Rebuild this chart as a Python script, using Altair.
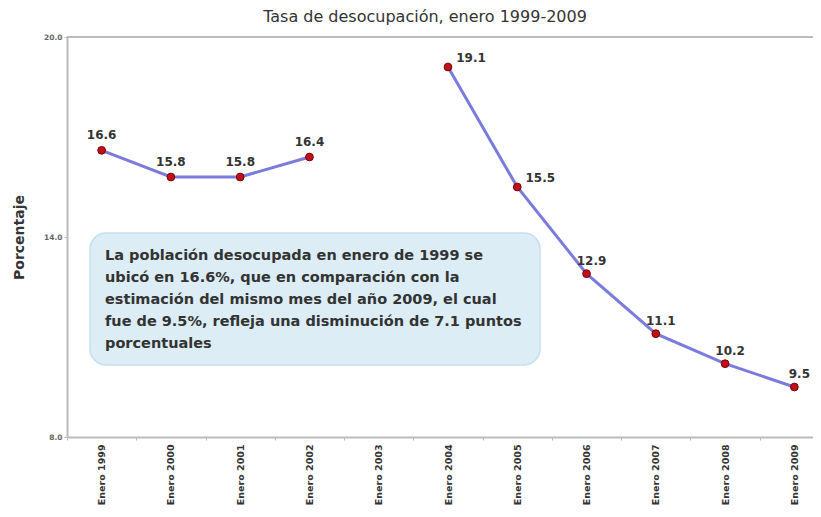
import altair as alt
import pandas as pd

categorias = ["Enero 1999", "Enero 2000", "Enero 2001", "Enero 2002", "Enero 2003",
              "Enero 2004", "Enero 2005", "Enero 2006", "Enero 2007", "Enero 2008", "Enero 2009"]
valores = [16.6, 15.8, 15.8, 16.4, None, 19.1, 15.5, 12.9, 11.1, 10.2, 9.5]
tramos = ["a", "a", "a", "a", None, "b", "b", "b", "b", "b", "b"]

titulo = "Tasa de desocupación, enero 1999-2009"
nota = [
    "La población desocupada en enero de 1999 se",
    "ubicó en 16.6%, que en comparación con la",
    "estimación del mismo mes del año 2009, el cual",
    "fue de 9.5%, refleja una disminución de 7.1 puntos",
    "porcentuales",
]

df = pd.DataFrame({"mes": categorias, "valor": valores, "tramo": tramos})
FONT = "DejaVu Sans"

xenc = alt.X("mes:N", sort=categorias,
             scale=alt.Scale(type="band", domain=categorias, paddingInner=0, paddingOuter=0,
                             range=[0, 762]),
             axis=alt.Axis(title=None, labelAngle=-90, labelFontSize=9.5, labelFontWeight="bold",
                           labelColor="#333333", labelFont=FONT, labelPadding=4,
                           domainColor="#bbbbbb", domainWidth=2, tickColor="#bbbbbb",
                           tickSize=3, tickBand="extent"))
yenc = alt.Y("valor:Q",
             scale=alt.Scale(domain=[8, 20], nice=False, zero=False),
             axis=alt.Axis(title="Porcentaje", values=[8, 14, 20], format=".1f",
                           labelFontSize=7.5, labelFontWeight="bold", labelColor="#666666",
                           labelFont=FONT, titleFont=FONT, titleFontSize=14,
                           titleFontWeight="bold", titleColor="#333333", titlePadding=17,
                           domainColor="#bbbbbb", domainWidth=2, tickColor="#bbbbbb",
                           tickSize=3, grid=False))

base = alt.Chart(df).transform_filter("datum.valor != null")

top_rule = alt.Chart(pd.DataFrame({"v": [20]})).mark_rule(
    color="#bbbbbb", strokeWidth=2).encode(y=alt.Y("v:Q", scale=alt.Scale(domain=[8, 20])))

box = alt.Chart(pd.DataFrame({"k": [0]})).mark_rect(
    fill="#dcedf5", stroke="#c3dfec", strokeWidth=1.5, cornerRadius=16
).encode(x=alt.value(23), x2=alt.value(473), y=alt.value(196), y2=alt.value(328))

box_text = alt.Chart(pd.DataFrame({"k": [0]})).mark_text(
    align="left", baseline="middle", font=FONT, fontSize=14.5, fontWeight="bold",
    color="#333333", lineHeight=22
).encode(x=alt.value(38), y=alt.value(219), text=alt.value(nota))

line = base.mark_line(color="#5a5ad6", strokeWidth=3, opacity=0.8).encode(
    x=xenc, y=yenc, detail="tramo:N")
points = base.mark_point(filled=True, size=60, fill="#c0101a", stroke="#7a0000",
                         strokeWidth=1, opacity=1).encode(x=xenc, y=yenc)

label_style = dict(font=FONT, fontSize=12, fontWeight="bold", color="#333333")
txt = alt.Text("valor:Q", format=".1f")
labels_a = base.transform_filter("datum.tramo == 'a'").mark_text(
    dy=-15, dx=0, **label_style).encode(x=xenc, y=yenc, text=txt)
labels_b1 = base.transform_filter(
    alt.FieldOneOfPredicate(field="mes", oneOf=categorias[5:7])).mark_text(
    dy=-9, dx=23, **label_style).encode(x=xenc, y=yenc, text=txt)
labels_b2 = base.transform_filter(
    alt.FieldOneOfPredicate(field="mes", oneOf=categorias[7:])).mark_text(
    dy=-13, dx=5, **label_style).encode(x=xenc, y=yenc, text=txt)

chart = alt.layer(top_rule, box, box_text, line, points, labels_a, labels_b1, labels_b2).properties(
    width=746, height=400,
    title=alt.TitleParams(titulo, font=FONT, fontSize=16, fontWeight="normal",
                          color="#333333", offset=8, dx=-15),
    autosize=alt.AutoSizeParams(type="none"),
    padding={"left": 59, "top": 29, "right": 0, "bottom": 72},
).configure_view(stroke=None)

chart.save("out.html", embed_options={"renderer": "svg", "actions": False})
